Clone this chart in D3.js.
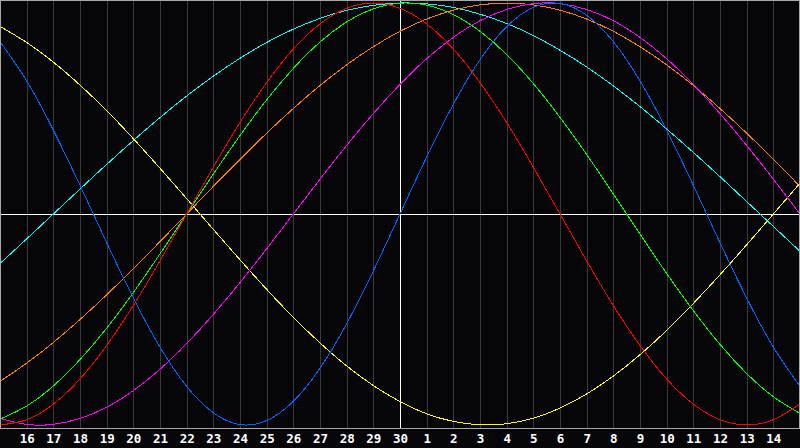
<!DOCTYPE html>
<meta charset="utf-8">
<style>
    body { margin: 0; background: #060609; }
    svg { display: block; background: #060609; }
    .grid line { stroke: #3a3a3a; stroke-width: 1px; shape-rendering: crispEdges; }
    .grid path { display: none; }
    .axis path, .axis line { display: none; }
    .axis text {
        fill: #fff;
        font-family: "DejaVu Sans Mono", monospace;
        font-weight: bold;
        font-size: 12.5px;
    }
    .cycle { fill: none; stroke-width: 1px; shape-rendering: crispEdges; }
    .frame { fill: none; stroke: #a8a8a8; stroke-width: 1px; shape-rendering: crispEdges; }
    .center { stroke: #fff; stroke-width: 1px; shape-rendering: crispEdges; }
</style>
<svg width="800" height="448"></svg>
<script src="https://d3js.org/d3.v7.min.js"></script>
<script>
// day of month at each grid column (15th .. 30th, then 1st .. 15th)
const days = [15, 16, 17, 18, 19, 20, 21, 22, 23, 24, 25, 26, 27, 28, 29, 30,
              1, 2, 3, 4, 5, 6, 7, 8, 9, 10, 11, 12, 13, 14, 15];

// one value per day, -1 .. 1
const physical = [0.817, 0.631, 0.398, 0.136, -0.136, -0.398, -0.631, -0.817, -0.942, -0.998, -0.979,
    -0.888, -0.731, -0.520, -0.270, 0, 0.270, 0.520, 0.731, 0.888, 0.979, 0.998, 0.942, 0.817,
    0.631, 0.398, 0.136, -0.136, -0.398, -0.631, -0.817];
const emotional = [-1, -0.975, -0.901, -0.782, -0.623, -0.434, -0.222, 0, 0.222, 0.434, 0.623,
    0.782, 0.901, 0.975, 1, 0.975, 0.901, 0.782, 0.623, 0.434, 0.222, 0, -0.222, -0.434,
    -0.623, -0.782, -0.901, -0.975, -1, -0.975, -0.901];
const intellectual = [-0.972, -0.910, -0.815, -0.690, -0.541, -0.372, -0.189, 0, 0.189, 0.372, 0.541,
    0.690, 0.815, 0.910, 0.972, 0.999, 0.990, 0.945, 0.866, 0.756, 0.618, 0.458, 0.282, 0.095,
    -0.095, -0.282, -0.458, -0.618, -0.756, -0.866, -0.945];
const intuitive = [-0.969, -0.997, -0.997, -0.969, -0.916, -0.837, -0.736, -0.614, -0.476, -0.325, -0.165,
    0, 0.165, 0.325, 0.476, 0.614, 0.736, 0.837, 0.916, 0.969, 0.997, 0.997, 0.969, 0.916,
    0.837, 0.736, 0.614, 0.476, 0.325, 0.165, 0];
const aesthetic = [0.889, 0.813, 0.720, 0.611, 0.490, 0.357, 0.217, 0.073, -0.073, -0.217, -0.357,
    -0.490, -0.611, -0.720, -0.813, -0.889, -0.947, -0.983, -0.999, -0.994, -0.968, -0.920, -0.853, -0.768,
    -0.667, -0.552, -0.424, -0.288, -0.146, 0, 0.146];
const awareness = [-0.793, -0.707, -0.609, -0.5, -0.383, -0.259, -0.131, 0, 0.131, 0.259, 0.383,
    0.5, 0.609, 0.707, 0.793, 0.866, 0.924, 0.966, 0.991, 1, 0.991, 0.966, 0.924, 0.866,
    0.793, 0.707, 0.609, 0.5, 0.383, 0.259, 0.131];
const spiritual = [-0.235, -0.118, 0, 0.118, 0.235, 0.348, 0.457, 0.559, 0.653, 0.738, 0.813,
    0.876, 0.927, 0.965, 0.989, 1, 0.996, 0.979, 0.947, 0.903, 0.846, 0.776, 0.697, 0.607,
    0.509, 0.403, 0.292, 0.177, 0.059, -0.059, -0.177];

const cycles = [
    { name: "spiritual", values: spiritual, color: "#00ffff" },
    { name: "awareness", values: awareness, color: "#ff8000" },
    { name: "aesthetic", values: aesthetic, color: "#ffff00" },
    { name: "intuitive", values: intuitive, color: "#ff00ff" },
    { name: "intellectual", values: intellectual, color: "#00ff00" },
    { name: "emotional", values: emotional, color: "#ff0000" },
    { name: "physical", values: physical, color: "#0066ff" }
];

const svg = d3.select("svg"),
    width = 800,
    plotBottom = 428;

const x = d3.scaleLinear().domain([0, days.length - 1]).range([0, width]);
const y = d3.scaleLinear().domain([-1, 1]).range([425, 3]);
const idx = d3.range(1, days.length - 1);

// day gridlines
svg.append("g")
    .attr("class", "grid")
    .attr("transform", `translate(0,${plotBottom})`)
    .call(d3.axisBottom(x).tickValues(idx).tickSize(-plotBottom).tickFormat(""));

// zero line and "today" line
svg.append("line").attr("class", "center")
    .attr("x1", 0).attr("x2", width).attr("y1", y(0)).attr("y2", y(0));
svg.append("line").attr("class", "center")
    .attr("x1", x(15)).attr("x2", x(15)).attr("y1", 0).attr("y2", plotBottom);

// cycle curves
const line = d3.line()
    .x((d, i) => x(i))
    .y(d => y(d))
    .curve(d3.curveNatural);

svg.selectAll(".cycle")
    .data(cycles)
    .enter().append("path")
    .attr("class", "cycle")
    .attr("stroke", d => d.color)
    .attr("d", d => line(d.values));

// frame
svg.append("rect").attr("class", "frame")
    .attr("x", 0).attr("y", 0).attr("width", width - 1).attr("height", plotBottom);

// day labels
svg.append("g")
    .attr("class", "axis")
    .attr("transform", `translate(0,${plotBottom})`)
    .call(d3.axisBottom(x).tickValues(idx).tickSize(0).tickPadding(6)
        .tickFormat(i => days[i]));
</script>
